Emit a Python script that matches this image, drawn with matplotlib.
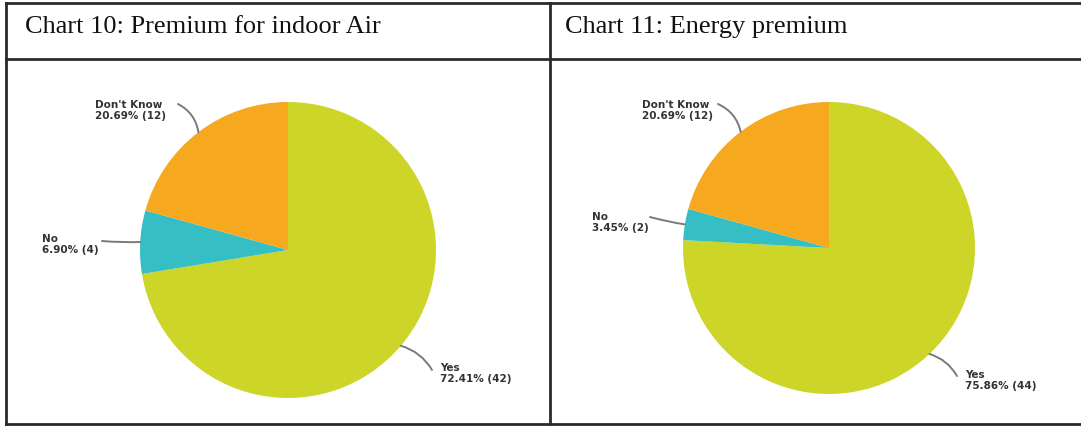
import numpy as np
import matplotlib
matplotlib.use("Agg")
import matplotlib.pyplot as plt

# Survey responses
categories = ["Yes", "No", "Don't Know"]
indoor_air_counts = [42, 4, 12]
indoor_air_pct = [72.41, 6.90, 20.69]
energy_counts = [44, 2, 12]
energy_pct = [75.86, 3.45, 20.69]
titles = ["Chart 10: Premium for indoor Air", "Chart 11: Energy premium"]

colors = ["#CDD529", "#35BEC3", "#F6A81F"]

W, H = 1081, 427
fig = plt.figure(figsize=(W / 100, H / 100), dpi=100)
fig.patch.set_facecolor("white")


def fx(px):
    return px / W


def fy(py):
    return 1 - py / H


# Table frame
frame = fig.add_axes([0, 0, 1, 1])
frame.set_xlim(0, W)
frame.set_ylim(H, 0)
frame.axis("off")
lc = "#2a2a2a"
lw = 2.0
frame.plot([6, W + 5], [4, 4], color=lc, lw=lw)
frame.plot([6, W + 5], [60, 60], color=lc, lw=lw)
frame.plot([6, W + 5], [425, 425], color=lc, lw=lw)
frame.plot([6, 6], [4, 425], color=lc, lw=lw)
frame.plot([550, 550], [4, 425], color=lc, lw=lw)

frame.text(25, 33, titles[0], fontsize=19, family="Liberation Serif",
           color="#111111", va="baseline", ha="left")
frame.text(565, 33, titles[1], fontsize=19, family="Liberation Serif",
           color="#111111", va="baseline", ha="left")

# curvature of leader lines for Yes, No, Don't Know
line_rad = [0.2, 0.03, -0.25]


def draw_pie(cx, cy, r, pct, counts, label_pos, line_start):
    ax = fig.add_axes([fx(cx - r), fy(cy + r), 2 * r / W, 2 * r / H])
    wedges, _ = ax.pie(pct, colors=colors, startangle=90, counterclock=False,
                       radius=1, wedgeprops=dict(linewidth=0))
    ax.set_xlim(-1, 1)
    ax.set_ylim(-1, 1)
    ax.set_aspect("auto")
    ax.axis("off")
    for w, cat, p, c, (tx, ty), (lx, ly), rad in zip(
            wedges, categories, pct, counts, label_pos, line_start, line_rad):
        mid = np.deg2rad((w.theta1 + w.theta2) / 2)
        ex, ey = np.cos(mid), np.sin(mid)
        ax.annotate("", xy=(ex, ey), xycoords="data",
                    xytext=(fx(lx), fy(ly)), textcoords="figure fraction",
                    arrowprops=dict(arrowstyle="-", color="#7a7a7a", lw=1.4,
                                    shrinkA=0, shrinkB=0,
                                    connectionstyle=f"arc3,rad={rad}"),
                    annotation_clip=False)
        fig.text(fx(tx), fy(ty), f"{cat}\n{p:.2f}% ({c})", fontsize=7.5,
                 fontweight="bold", color="#333333", ha="left", va="top",
                 linespacing=1.1)


draw_pie(288, 251, 148, indoor_air_pct, indoor_air_counts,
         label_pos=[(440, 363), (42, 234), (95, 100)],
         line_start=[(432, 371), (102, 242), (178, 105)])

draw_pie(829, 249, 146, energy_pct, energy_counts,
         label_pos=[(965, 370), (592, 212), (642, 100)],
         line_start=[(957, 377), (650, 218), (718, 105)])

fig.savefig("out.png", dpi=100, facecolor="white")
